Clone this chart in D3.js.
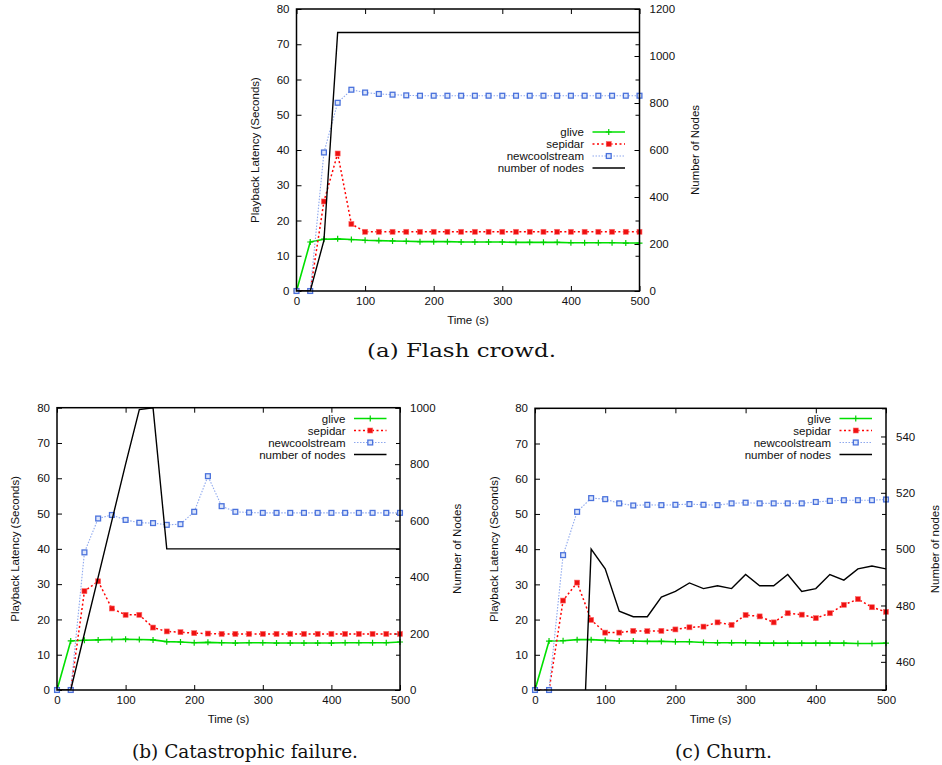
<!DOCTYPE html>
<html>
<head>
<meta charset="utf-8">
<script src="https://cdn.jsdelivr.net/npm/d3@7"></script>
<style>
  body { margin: 0; background: #fff; }
  svg text { font-family: "Liberation Sans", Arial, sans-serif; }
  svg text.caption { font-family: "DejaVu Serif", "Liberation Serif", serif; }
</style>
</head>
<body>
<svg id="chart" width="942" height="765"></svg>
<script>
// time axis (seconds), shared by all three runs
const timeSec = [0,20,40,60,80,100,120,140,160,180,200,220,240,260,280,300,320,340,360,380,400,420,440,460,480,500];

// (a) flash crowd
const aGlive   = [0,13.9,14.7,14.8,14.6,14.4,14.3,14.2,14.1,14.0,14.0,14.0,13.9,13.9,13.9,13.9,13.8,13.8,13.8,13.8,13.7,13.7,13.7,13.7,13.6,13.6];
const aSepidar = [0,0,25.4,39.0,19.0,16.8,16.8,16.8,16.8,16.8,16.8,16.8,16.8,16.8,16.8,16.8,16.8,16.8,16.8,16.8,16.8,16.8,16.8,16.8,16.8,16.8];
const aNewcool = [0,0,39.3,53.4,57.1,56.3,55.9,55.7,55.5,55.4,55.4,55.4,55.4,55.4,55.4,55.4,55.4,55.4,55.4,55.4,55.4,55.4,55.4,55.4,55.4,55.4];
const aNodes   = [0,0,215,1100,1100,1100,1100,1100,1100,1100,1100,1100,1100,1100,1100,1100,1100,1100,1100,1100,1100,1100,1100,1100,1100,1100];

// (b) catastrophic failure
const bGlive   = [0,13.9,14.1,14.2,14.3,14.4,14.3,14.2,13.7,13.6,13.4,13.5,13.4,13.3,13.4,13.4,13.3,13.3,13.3,13.3,13.3,13.4,13.4,13.4,13.4,13.6];
const bSepidar = [0,0,28.0,30.8,23.1,21.3,21.3,17.7,16.6,16.4,16.1,16.0,15.9,15.9,15.9,15.9,15.9,15.9,15.9,15.9,15.9,15.9,15.9,15.9,15.9,15.9];
const bNewcool = [0,0,39.0,48.6,49.6,48.2,47.4,47.3,46.8,47.0,50.5,60.6,52.1,50.5,50.3,50.2,50.2,50.2,50.2,50.2,50.2,50.2,50.2,50.2,50.2,50.2];
const bNodes   = [0,0,200,400,600,800,993,1000,500,500,500,500,500,500,500,500,500,500,500,500,500,500,500,500,500,500];

// (c) churn
const cGlive   = [0,13.9,14.0,14.3,14.3,14.1,13.9,13.9,13.8,13.8,13.7,13.7,13.5,13.4,13.4,13.4,13.3,13.3,13.3,13.3,13.3,13.3,13.3,13.2,13.2,13.3];
const cSepidar = [0,0,25.4,30.5,19.9,16.3,16.3,16.8,16.7,16.8,17.2,17.8,18.0,19.2,18.5,21.3,20.9,19.2,21.8,21.4,20.4,21.8,24.2,25.8,23.5,22.2];
const cNewcool = [0,0,38.3,50.6,54.5,54.2,53.0,52.4,52.6,52.5,52.6,52.8,52.6,52.5,53.0,53.2,53.0,53.0,53.0,53.0,53.4,53.7,53.9,53.9,53.9,54.1];
const cNodes   = [0,0,0,375,500,493,478,476,476,483,485,488,486,487,486,491,487,487,491,485,486,491,489,493,494,493];

const xTicks  = [0,100,200,300,400,500];
const yTicks  = [0,10,20,30,40,50,60,70,80];
const seriesNames = ['glive','sepidar','newcoolstream','number of nodes'];

const svg = d3.select('#chart');
const fs = 11.5;

let panels = [
  {id:'a', left:296.5, right:639.5, top:9, bottom:291,
   glive:aGlive, sepidar:aSepidar, newcool:aNewcool, nodes:aNodes,
   y2Domain:[0,1200], y2Ticks:[0,200,400,600,800,1000,1200], y2Title:'Number of Nodes',
   yTitleX:255, y2TitleX:695, legendRight:584, legendTop:132,
   caption:'(a) Flash crowd.', capX:461.5, capY:357, capW:189},
  {id:'b', left:57, right:400, top:407.7, bottom:690,
   glive:bGlive, sepidar:bSepidar, newcool:bNewcool, nodes:bNodes,
   y2Domain:[0,1000], y2Ticks:[0,200,400,600,800,1000], y2Title:'Number of Nodes',
   yTitleX:15, y2TitleX:457, legendRight:345.5, legendTop:418.5,
   caption:'(b) Catastrophic failure.', capX:245, capY:758, capW:226},
  {id:'c', left:535, right:886, top:408.3, bottom:690,
   glive:cGlive, sepidar:cSepidar, newcool:cNewcool, nodes:cNodes,
   y2Domain:[450,550], y2Ticks:[460,480,500,520,540], y2Title:'Number of nodes',
   yTitleX:494, y2TitleX:935, legendRight:831, legendTop:418.5,
   caption:'(c) Churn.', capX:723.5, capY:758, capW:97}
];

const styles = {
  glive:   {stroke:'#00e000', width:1.6, dash:null, marker:'plus', mcol:'#00d000'},
  sepidar: {stroke:'#ff0000', width:1.5, dash:'2,2.5', marker:'fsq', mcol:'#ee1111'},
  newcool: {stroke:'#8ea8ee', width:1.1, dash:'1.5,1.5', marker:'osq', mcol:'#4a72dc'},
  nodes:   {stroke:'#000000', width:1.4, dash:null, marker:null}
};

function drawMarker(g, kind, x, y, col){
  if(kind == 'plus'){
    g.append('path').attr('d', 'M'+(x-3)+','+y+'H'+(x+3)+'M'+x+','+(y-3)+'V'+(y+3))
      .attr('stroke', col).attr('stroke-width', 1.2).attr('fill', 'none');
  }else if(kind == 'fsq'){
    g.append('rect').attr('x', x-2.5).attr('y', y-2.5).attr('width', 5).attr('height', 5)
      .attr('fill', col).attr('stroke', '#ff6666').attr('stroke-width', 0.6);
  }else if(kind == 'osq'){
    g.append('rect').attr('x', x-2.4).attr('y', y-2.4).attr('width', 4.8).attr('height', 4.8)
      .attr('fill', '#dde6fb').attr('stroke', col).attr('stroke-width', 1.3);
  }
}

panels.forEach(function(p){
  let g = svg.append('g').attr('class', 'panel_' + p.id);
  let x = d3.scaleLinear().domain([0,500]).range([p.left, p.right]);
  let y = d3.scaleLinear().domain([0,80]).range([p.bottom, p.top]);
  let y2 = d3.scaleLinear().domain(p.y2Domain).range([p.bottom, p.top]);

  g.append('clipPath').attr('id', 'clip_' + p.id).append('rect')
    .attr('x', p.left).attr('y', p.top).attr('width', p.right - p.left).attr('height', p.bottom - p.top);

  // axes with inward ticks, mirrored on the opposite sides
  let axL = g.append('g').attr('transform', 'translate(' + p.left + ',0)')
    .call(d3.axisLeft(y).tickValues(yTicks).tickSize(-5).tickPadding(7));
  let axR = g.append('g').attr('transform', 'translate(' + p.right + ',0)')
    .call(d3.axisRight(y).tickValues(yTicks).tickSize(-4).tickFormat(''));
  let axR2 = g.append('g').attr('transform', 'translate(' + p.right + ',0)')
    .call(d3.axisRight(y2).tickValues(p.y2Ticks).tickSize(-5).tickPadding(10).tickFormat(d3.format('d')));
  let axB = g.append('g').attr('transform', 'translate(0,' + p.bottom + ')')
    .call(d3.axisBottom(x).tickValues(xTicks).tickSize(-5).tickPadding(6));
  let axT = g.append('g').attr('transform', 'translate(0,' + p.top + ')')
    .call(d3.axisTop(x).tickValues(xTicks).tickSize(-5).tickFormat(''));
  [axL, axR, axR2, axB, axT].forEach(function(a){
    a.select('.domain').remove();
    a.selectAll('line').attr('stroke', '#000').attr('stroke-width', 1);
    a.selectAll('text').attr('font-size', fs).attr('fill', '#111')
      .style('font-family', '"Liberation Sans", Arial, sans-serif');
  });

  // series
  let keys = ['glive','sepidar','newcool','nodes'];
  keys.forEach(function(k){
    let st = styles[k];
    let yy = k == 'nodes' ? y2 : y;
    let pts = timeSec.map((t, i) => [x(t), yy(p[k][i])]);
    let line = d3.line();
    g.append('path').attr('d', line(pts)).attr('fill', 'none')
      .attr('stroke', st.stroke).attr('stroke-width', st.width)
      .attr('stroke-dasharray', st.dash).attr('clip-path', 'url(#clip_' + p.id + ')');
    if(st.marker){
      let mg = g.append('g');
      pts.forEach(d => drawMarker(mg, st.marker, d[0], d[1], st.mcol));
    }
  });

  // border
  g.append('rect').attr('x', p.left).attr('y', p.top)
    .attr('width', p.right - p.left).attr('height', p.bottom - p.top)
    .attr('fill', 'none').attr('stroke', '#000').attr('stroke-width', 1.5);

  // titles
  g.append('text').attr('x', (p.left + p.right) / 2).attr('y', p.bottom + 33)
    .attr('text-anchor', 'middle').attr('font-size', fs).attr('fill', '#111').text('Time (s)');
  let ym = (p.top + p.bottom) / 2;
  g.append('text').attr('transform', 'translate(' + (p.yTitleX + 4) + ',' + ym + ') rotate(-90)')
    .attr('text-anchor', 'middle').attr('font-size', fs).attr('fill', '#111').text('Playback Latency (Seconds)');
  g.append('text').attr('transform', 'translate(' + (p.y2TitleX + 4) + ',' + ym + ') rotate(-90)')
    .attr('text-anchor', 'middle').attr('font-size', fs).attr('fill', '#111').text(p.y2Title);

  // legend
  keys.forEach(function(k, i){
    let st = styles[k];
    let ly = p.legendTop + i * 12;
    g.append('text').attr('x', p.legendRight).attr('y', ly + 4)
      .attr('text-anchor', 'end').attr('font-size', fs).attr('fill', '#111').text(seriesNames[i]);
    let x0 = p.legendRight + 8.5, x1 = p.legendRight + 41;
    g.append('line').attr('x1', x0).attr('x2', x1).attr('y1', ly).attr('y2', ly)
      .attr('stroke', st.stroke).attr('stroke-width', st.width).attr('stroke-dasharray', st.dash);
    if(st.marker) drawMarker(g, st.marker, (x0 + x1) / 2, ly, st.mcol);
  });

  // caption
  g.append('text').attr('class', 'caption').attr('x', p.capX).attr('y', p.capY).attr('text-anchor', 'middle')
    .attr('font-size', 19).attr('fill', '#111')
    .attr('textLength', p.capW).attr('lengthAdjust', 'spacingAndGlyphs').text(p.caption);
});
</script>
</body>
</html>
